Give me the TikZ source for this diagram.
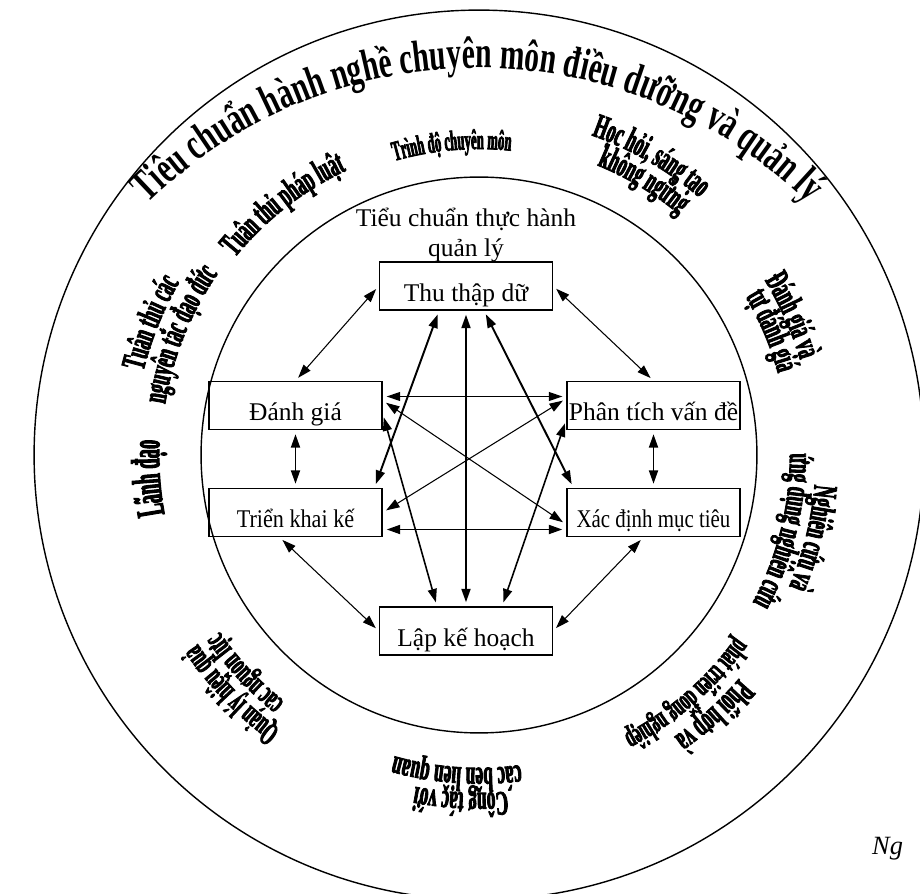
\documentclass[tikz,border=0pt]{standalone}
\usepackage{fontspec}
\XeTeXinputnormalization=1
\setmainfont{Liberation Serif}
\newfontfamily\archfont[FakeStretch=0.66]{Liberation Serif}
\newfontfamily\ringfont[FakeStretch=0.5,FakeBold=2.5]{Liberation Serif}
\newfontfamily\narrowfont[FakeStretch=0.45,FakeBold=2.5]{Liberation Serif}
\usetikzlibrary{arrows.meta,decorations.text}

\begin{document}
\begin{tikzpicture}[x=0.02cm,y=0.02cm,>={Triangle[length=2.7mm,width=1.8mm]},
  box/.style={draw,line width=0.8pt,minimum width=3.46cm,minimum height=0.96cm,
    inner sep=0pt,text height=0.62cm,text depth=0pt,font=\fontsize{14.5}{16}\selectfont},
  link/.style={<->,line width=0.6pt,shorten <=0.08cm,shorten >=0.08cm},
  boldlink/.style={link,line width=1.1pt},
  ringtext/.style 2 args={decorate,decoration={text along path,text align=center,
    text={|\ringfont\bfseries\fontsize{#1}{#1}\selectfont|#2}}},
  narrowtext/.style 2 args={decorate,decoration={text along path,text align=center,
    text={|\narrowfont\bfseries\fontsize{#1}{#1}\selectfont|#2}}},
  titletext/.style={decorate,decoration={text along path,text align=center,
    text={|\archfont\bfseries\fontsize{25.5}{27}\selectfont|#1}}}]
  \useasboundingbox (0,0) rectangle (920,893);
  \clip (0,0) rectangle (920,893);
  \coordinate (ctr) at (479,438);
  \coordinate (tc) at (478,355);
  % two rings
  \draw[line width=0.8pt] (ctr) circle[radius=8.9cm];
  \draw[line width=0.8pt] (ctr) circle[radius=5.56cm];
  % outer title
  \path[titletext={Tiêu chuẩn hành nghề chuyên môn điều dưỡng và quản lý}]
    ([shift={(150:9.4cm)}]tc) arc[start angle=150,end angle=30,radius=9.4cm];
  % labels in the ring
  \path[narrowtext={16}{Trình độ chuyên môn}]
    ([shift={(125:6.12cm)}]ctr) arc[start angle=125,end angle=65,radius=6.12cm];
  \path[ringtext={19.5}{Tuân thủ pháp luật}]
    ([shift={(160:6.28cm)}]ctr) arc[start angle=160,end angle=96,radius=6.28cm];
  \path[ringtext={19.5}{Học hỏi, sáng tạo}]
    ([shift={(90:6.78cm)}]ctr) arc[start angle=90,end angle=30,radius=6.78cm];
  \path[ringtext={19.5}{không ngừng}]
    ([shift={(89:6.26cm)}]ctr) arc[start angle=89,end angle=29,radius=6.26cm];
  \path[ringtext={19.5}{Tuân thủ các}]
    ([shift={(188:6.92cm)}]ctr) arc[start angle=188,end angle=128,radius=6.92cm];
  \path[ringtext={19.5}{nguyên tắc đạo đức}]
    ([shift={(188:6.36cm)}]ctr) arc[start angle=188,end angle=128,radius=6.36cm];
  \path[narrowtext={23}{Lãnh đạo}]
    ([shift={(214:6.40cm)}]ctr) arc[start angle=214,end angle=154,radius=6.40cm];
  \path[ringtext={19.5}{Đánh giá và}]
    ([shift={(54:6.70cm)}]ctr) arc[start angle=54,end angle=-6,radius=6.70cm];
  \path[ringtext={19.5}{tự đánh giá}]
    ([shift={(53:6.20cm)}]ctr) arc[start angle=53,end angle=-7,radius=6.20cm];
  \path[ringtext={19.5}{Nghiên cứu và}]
    ([shift={(16:6.74cm)}]ctr) arc[start angle=16,end angle=-44,radius=6.74cm];
  \path[ringtext={19.5}{ứng dụng nghiên cứu}]
    ([shift={(16:6.22cm)}]ctr) arc[start angle=16,end angle=-44,radius=6.22cm];
  \path[ringtext={19.5}{Phối hợp và}]
    ([shift={(-18:6.86cm)}]ctr) arc[start angle=-18,end angle=-78,radius=6.86cm];
  \path[ringtext={17.5}{phát triển đồng nghiệp}]
    ([shift={(-19:6.30cm)}]ctr) arc[start angle=-19,end angle=-79,radius=6.30cm];
  \path[ringtext={19.5}{Cộng tác với}]
    ([shift={(-63:6.76cm)}]ctr) arc[start angle=-63,end angle=-123,radius=6.76cm];
  \path[ringtext={19.5}{các bên liên quan}]
    ([shift={(-64:6.26cm)}]ctr) arc[start angle=-64,end angle=-124,radius=6.26cm];
  \path[ringtext={18.5}{Quản lý hiệu quả}]
    ([shift={(-106:6.78cm)}]ctr) arc[start angle=-106,end angle=-166,radius=6.78cm];
  \path[ringtext={18.5}{các nguồn lực}]
    ([shift={(-107:6.28cm)}]ctr) arc[start angle=-107,end angle=-167,radius=6.28cm];
  % inner standard
  \node[align=center,font=\fontsize{14.5}{17}\selectfont] (std) at (466,658)
    {Tiểu chuẩn thực hành\\quản lý};
  \node[box] (thu) at (466,607) {Thu thập dữ};
  \node[box] (danh) at (295.5,487.5) {Đánh giá};
  \node[box] (phan) at (653.5,487.5) {Phân tích vấn đề};
  \node[box] (trien) at (295.5,380.5) {\scalebox{0.87}[1]{Triển khai kế}};
  \node[box] (xac) at (653.5,380.5) {\scalebox{0.82}[1]{Xác định mục tiêu}};
  \node[box] (lap) at (466,262) {Lập kế hoạch};
  % links around the ring of steps
  \draw[link] (thu.west) -- (danh.north);
  \draw[link] (thu.east) -- (phan.north);
  \draw[boldlink] (danh.south) -- (trien.north);
  \draw[boldlink] (phan.south) -- (xac.north);
  \draw[link] ([shift={(-16,0)}]trien.south) -- (lap.west);
  \draw[link] ([shift={(-10,0)}]xac.south) -- (lap.east);
  % links across
  \draw[link] ([shift={(0,9)}]danh.east) -- ([shift={(0,9)}]phan.west);
  \draw[boldlink] ([shift={(0,-17)}]trien.east) -- ([shift={(0,-17)}]xac.west);
  \draw[link] ([shift={(0,5)}]danh.east) -- ([shift={(0,-12)}]xac.west);
  \draw[link] (trien.east) -- ([shift={(0,7)}]phan.west);
  \draw[boldlink] ([shift={(-27,0)}]thu.south) -- ([shift={(79,0)}]trien.north);
  \draw[boldlink] (thu.south) -- (lap.north);
  \draw[boldlink] ([shift={(18,0)}]thu.south) -- ([shift={(-80,0)}]xac.north);
  \draw[link,line width=0.9pt] ([shift={(0,-8)}]danh.east) -- ([shift={(-29,0)}]lap.north);
  \draw[link,line width=0.9pt] ([shift={(0,-14)}]phan.west) -- ([shift={(36,0)}]lap.north);
  \node[anchor=base west,font=\itshape\fontsize{15}{17}\selectfont] (src) at (866,38) {Ng};
\end{tikzpicture}
\end{document}
